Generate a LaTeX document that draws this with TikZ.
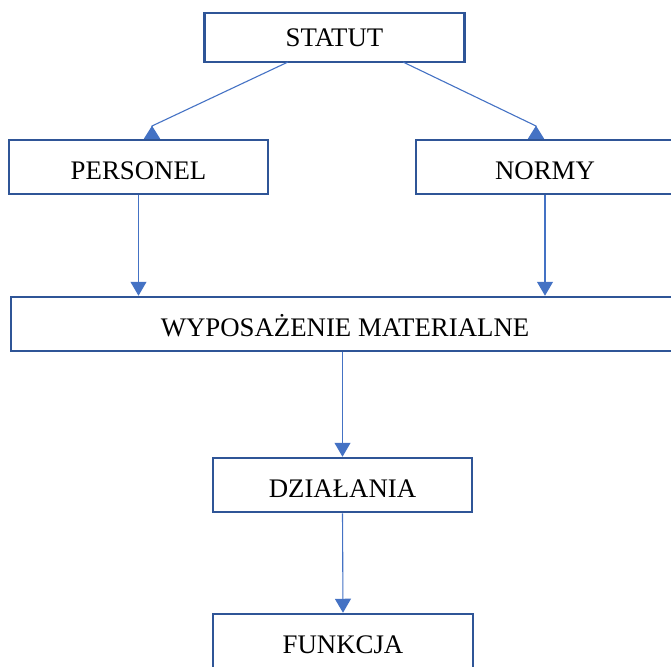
\documentclass[tikz,border=0pt]{standalone}
\usepackage{fontspec}
\setmainfont{Liberation Serif}
\usetikzlibrary{arrows.meta}
\definecolor{ramka}{HTML}{2F5597}
\definecolor{linia}{HTML}{4472C4}

\begin{document}
\begin{tikzpicture}[x=1pt,y=-1pt,
   blok/.style={draw=ramka,line width=2.5pt,fill=white,inner sep=0pt,
      minimum height=54pt,text height=24pt,text depth=0pt,
      font=\fontsize{26.8}{30}\selectfont},
   strz/.style={draw=linia,line width=1.1pt,-{Triangle[width=16pt,length=14pt]}},
   strzg/.style={draw=linia,line width=1.1pt,-{Triangle[reversed,width=16pt,length=13pt]}}]
   \clip (0,0) rectangle (671,666);
   \node[blok,minimum width=260pt,minimum height=49pt,text height=18pt] (statut) at (334.5, 37.5) {STATUT};
   \node[blok,minimum width=259pt] (personel)    at (138.5,167) {PERSONEL};
   \node[blok,minimum width=258pt] (normy)       at (545,  167) {NORMY};
   \node[blok,minimum width=668pt] (wyposazenie) at (345,  324) {WYPOSAŻENIE MATERIALNE};
   \node[blok,minimum width=259pt] (dzialania)   at (342.5,485) {DZIAŁANIA};
   \node[blok,minimum width=260pt] (funkcja)     at (343,  641) {FUNKCJA};
   \coordinate (wyjL) at (288,62);
   \coordinate (wyjP) at (403,62);
   \coordinate (szczL) at (152,126);
   \coordinate (szczP) at (536,126);
   \draw[strzg] (wyjL) -- (szczL) -- (personel.north -| szczL);
   \draw[strzg] (wyjP) -- (szczP) -- (normy.north -| szczP);
   \draw[strz] (personel.south) -- (wyposazenie.north -| personel.south);
   \draw[strz] (normy.south) -- (wyposazenie.north -| normy.south);
   \draw[strz] (wyposazenie.south -| dzialania.north) -- (dzialania.north);
   \draw[strz] (dzialania.south) -- (funkcja.north);
\end{tikzpicture}
\end{document}
